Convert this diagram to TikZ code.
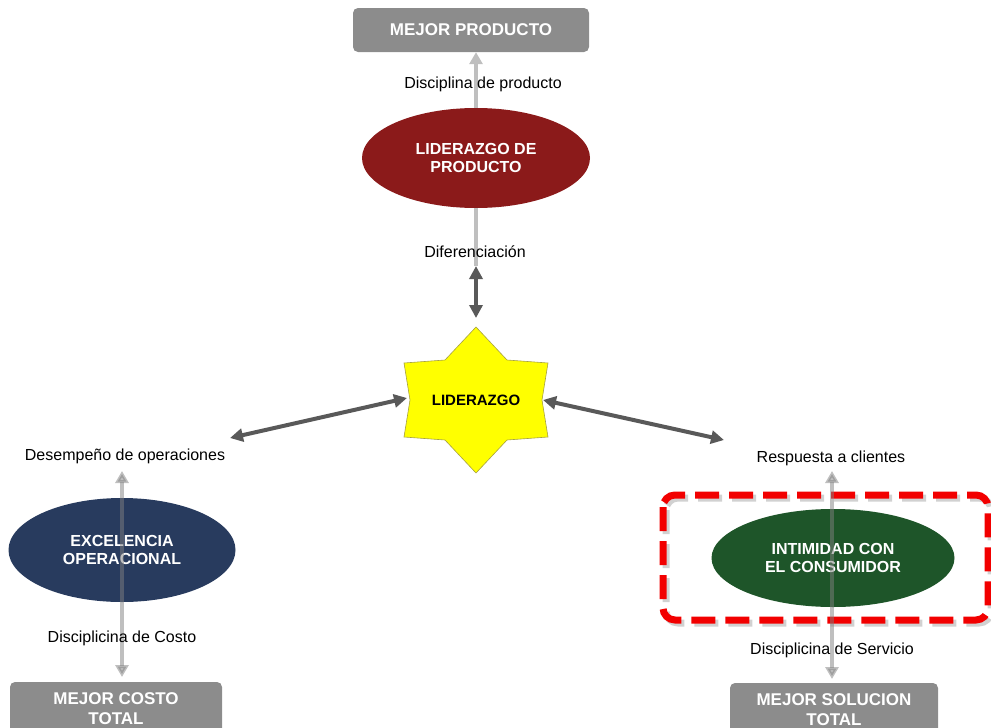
\documentclass[tikz,border=0pt]{standalone}
\usepackage{fontspec}
\setmainfont{Liberation Sans}
\usetikzlibrary{shapes.geometric,arrows.meta}
\definecolor{boxgray}{HTML}{8C8C8C}
\definecolor{ldred}{HTML}{8B1A1A}
\definecolor{opnavy}{HTML}{283B5E}
\definecolor{dgreen}{HTML}{1E5529}
\definecolor{darkarr}{HTML}{595959}
\definecolor{lightarr}{HTML}{BFBFBF}
\definecolor{staryellow}{HTML}{FFFF00}
\definecolor{dashred}{HTML}{F20000}
\begin{document}
\begin{tikzpicture}[x=1pt,y=-1pt,
  box/.style={fill=boxgray, rounded corners=5pt, text=white, font=\bfseries\fontsize{17}{20}\selectfont, align=center, inner sep=0pt},
  ell/.style={ellipse, text=white, font=\bfseries\fontsize{16}{18}\selectfont, align=center, inner sep=0pt},
  lbl/.style={font=\fontsize{16}{18}\selectfont, text=black, inner sep=0pt},
  darkdbl/.style={draw=darkarr, line width=4pt, {Triangle[length=13pt,width=13pt]}-{Triangle[length=13pt,width=13pt]}},
  lightone/.style={draw=lightarr, line width=4pt, -{Triangle[length=12pt,width=13pt]}},
  lightdbl/.style={draw=gray, draw opacity=0.5, fill opacity=0.5, line width=4pt, {Triangle[length=12pt,width=13pt]}-{Triangle[length=12pt,width=13pt]}},
  dashbox/.style={line width=7pt, rounded corners=12pt, dash pattern=on 24pt off 10pt}
]
\useasboundingbox (0,0) rectangle (991,728);
\clip (0,0) rectangle (991,728);

% boxes
\node[box, minimum width=236pt, minimum height=44pt] (bprod) at (471,30) {MEJOR PRODUCTO};
\node[box, minimum width=212pt, minimum height=54pt] (bcost) at (116,709) {MEJOR COSTO\\TOTAL};
\node[box, minimum width=208pt, minimum height=54pt] (bsol) at (834,710) {MEJOR SOLUCION\\TOTAL};

% ellipses
\node[ell, fill=ldred, minimum width=228pt, minimum height=100pt] (eprod) at (476,158) {LIDERAZGO DE\\PRODUCTO};
\node[ell, fill=opnavy, minimum width=227pt, minimum height=104pt] (eop) at (122,550) {EXCELENCIA\\OPERACIONAL};
\node[ell, fill=dgreen, minimum width=243pt, minimum height=98pt] (ecli) at (833,558) {INTIMIDAD CON\\EL CONSUMIDOR};

% dashed highlight box
\draw[dashbox, draw=black, draw opacity=0.18] (666,498) rectangle (991,623);
\draw[dashbox, draw=dashred] (663,495) rectangle (988,620);

% star
\path[fill=staryellow, draw=yellow!60!black, line width=0.6pt]
  (476,327) coordinate (sT) -- (507,360) -- (548,363) coordinate (sUR) -- (542,400) coordinate (sR)
  -- (548,437) coordinate (sLR) -- (507,440) -- (476,473) coordinate (sB) -- (445,440)
  -- (404,437) coordinate (sLL) -- (410,400) coordinate (sL) -- (404,363) coordinate (sUL) -- (445,360) -- cycle;
\node[font=\bfseries\fontsize{15}{18}\selectfont, inner sep=0pt] (lid) at (476,400) {LIDERAZGO};

% coordinates for connector ends
\coordinate (difTop) at (476,266);
\coordinate (difBot) at (476,318);
\coordinate (leftEnd) at (230,438);
\coordinate (leftStart) at (407,398);
\coordinate (rightStart) at (543,400);
\coordinate (rightEnd) at (724,440);
\coordinate (opTop) at (122,471);
\coordinate (opBot) at (122,677);
\coordinate (cliTop) at (832,471);
\coordinate (cliBot) at (832,679);

% connectors
\draw[lightone] (eprod.north) -- (eprod.north |- bprod.south);
\draw[draw=lightarr, line width=4pt] (eprod.south) -- (difTop);
\draw[darkdbl] (difTop) -- (difBot);
\draw[darkdbl] (leftStart) -- (leftEnd);
\draw[darkdbl] (rightStart) -- (rightEnd);
\draw[lightdbl] (opTop) -- (opBot);
\draw[lightdbl] (cliTop) -- (cliBot);

% labels
\node[lbl] (lprod) at (483,84) {Disciplina de producto};
\node[lbl] (ldif) at (475,252) {Diferenciación};
\node[lbl] (ldes) at (125,456) {Desempeño de operaciones};
\node[lbl] (lcost) at (122,638) {Disciplicina de Costo};
\node[lbl] (lresp) at (831,458) {Respuesta a clientes};
\node[lbl] (lserv) at (832,650) {Disciplicina de Servicio};
\end{tikzpicture}
\end{document}
